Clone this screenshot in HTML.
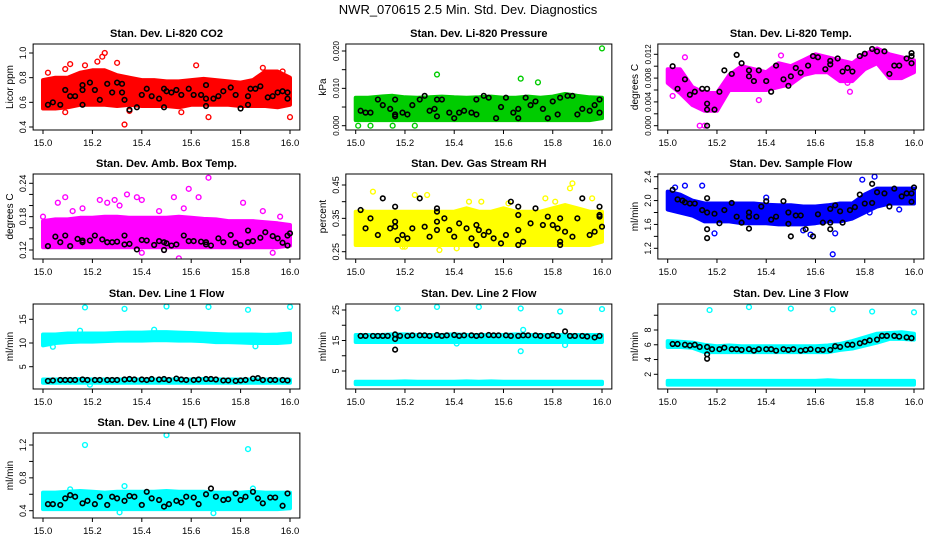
<!DOCTYPE html>
<html><head><meta charset="utf-8">
<style>
html,body{margin:0;padding:0;background:#fff;}
svg{display:block;font-family:"Liberation Sans",sans-serif;}
</style></head>
<body>
<svg id="chart" width="936" height="540" viewBox="0 0 936 540">
<text x="468" y="14" text-anchor="middle" font-size="13">NWR_070615  2.5 Min. Std. Dev. Diagnostics</text>
</svg>
<script>
const xTicks=[15.0,15.2,15.4,15.6,15.8,16.0];
const binTimes=[15.00,15.05,15.10,15.15,15.20,15.25,15.30,15.35,15.40,15.45,15.50,15.55,15.60,15.65,15.70,15.75,15.80,15.85,15.90,15.95,16.00];
const lineTimes=[15.02,15.04,15.07,15.09,15.11,15.13,15.16,15.18,15.21,15.23,15.26,15.28,15.30,15.33,15.35,15.37,15.40,15.42,15.44,15.47,15.49,15.51,15.54,15.56,15.58,15.61,15.63,15.66,15.68,15.70,15.73,15.75,15.78,15.80,15.82,15.85,15.87,15.89,15.92,15.94,15.97,15.99];

// CO2
const co2Lo=[0.55,0.55,0.56,0.58,0.58,0.58,0.57,0.58,0.57,0.57,0.57,0.56,0.58,0.58,0.58,0.58,0.57,0.57,0.57,0.56,0.58];
const co2Hi=[0.78,0.80,0.80,0.84,0.86,0.86,0.82,0.80,0.78,0.78,0.77,0.77,0.78,0.79,0.78,0.77,0.76,0.78,0.85,0.85,0.80];
const co2Out=[[15.02,0.84],[15.09,0.87],[15.11,0.91],[15.17,0.90],[15.22,0.93],[15.24,1.1],[15.25,1.0],[15.24,0.97],[15.30,0.92],[15.33,0.42],[15.62,0.90],[15.67,0.48],[16.00,0.48],[15.56,0.52],[15.35,0.53],[15.09,0.52],[15.89,0.88],[15.97,0.85]];
const co2Black=[[15.02,0.58],[15.04,0.60],[15.07,0.58],[15.09,0.70],[15.11,0.65],[15.13,0.65],[15.16,0.58],[15.16,0.70],[15.16,0.74],[15.19,0.76],[15.21,0.70],[15.23,0.62],[15.26,0.75],[15.28,0.68],[15.30,0.76],[15.32,0.75],[15.32,0.68],[15.33,0.62],[15.35,0.54],[15.38,0.56],[15.40,0.66],[15.42,0.71],[15.44,0.65],[15.47,0.63],[15.49,0.56],[15.49,0.71],[15.50,0.69],[15.52,0.68],[15.54,0.70],[15.56,0.66],[15.59,0.71],[15.61,0.66],[15.64,0.66],[15.66,0.57],[15.66,0.63],[15.66,0.74],[15.69,0.63],[15.71,0.65],[15.73,0.69],[15.76,0.72],[15.78,0.66],[15.80,0.55],[15.83,0.58],[15.83,0.65],[15.84,0.71],[15.86,0.71],[15.88,0.73],[15.91,0.64],[15.93,0.65],[15.95,0.68],[15.97,0.69],[15.99,0.63],[15.99,0.68]];
// Pressure
const presLo=[0.0015,0.0015,0.0015,0.0015,0.0015,0.0015,0.0015,0.0015,0.0015,0.0015,0.0015,0.0015,0.0015,0.0015,0.0015,0.0015,0.0015,0.0015,0.0015,0.0015,0.0020];
const presHi=[0.0075,0.0075,0.0078,0.0080,0.0076,0.0075,0.0076,0.0078,0.0076,0.0075,0.0076,0.0078,0.0075,0.0075,0.0078,0.0075,0.0078,0.0085,0.0080,0.0076,0.0075];
const presOut=[[15.33,0.0137],[15.67,0.0126],[15.74,0.0116],[16.00,0.0207],[15.01,0.0],[15.06,0.0],[15.15,0.0],[15.24,0.0]];
const presBlack=[[15.02,0.004],[15.04,0.0035],[15.06,0.0035],[15.09,0.007],[15.11,0.0055],[15.14,0.0045],[15.16,0.007],[15.16,0.003],[15.16,0.0025],[15.19,0.0035],[15.21,0.003],[15.23,0.0055],[15.26,0.007],[15.28,0.008],[15.30,0.004],[15.32,0.0045],[15.33,0.0025],[15.33,0.007],[15.35,0.007],[15.38,0.0035],[15.40,0.002],[15.42,0.0035],[15.44,0.004],[15.47,0.0035],[15.49,0.003],[15.49,0.007],[15.52,0.008],[15.54,0.0075],[15.57,0.002],[15.59,0.005],[15.61,0.0075],[15.64,0.0035],[15.66,0.002],[15.66,0.0045],[15.69,0.0075],[15.71,0.0055],[15.73,0.0065],[15.76,0.0045],[15.78,0.002],[15.80,0.0065],[15.82,0.003],[15.83,0.0075],[15.86,0.008],[15.88,0.008],[15.90,0.003],[15.92,0.0045],[15.95,0.004],[15.97,0.0055],[15.99,0.007],[15.99,0.0035]];
// Li-820 Temp
const tempLo=[0.0072,0.0055,0.0035,0.0025,0.0025,0.0060,0.0060,0.0060,0.0060,0.0065,0.0070,0.0085,0.0090,0.0090,0.0075,0.0075,0.0095,0.0105,0.0080,0.0080,0.0090];
const tempHi=[0.0095,0.0095,0.0065,0.0055,0.0055,0.0085,0.0100,0.0095,0.0090,0.0105,0.0100,0.0110,0.0120,0.0115,0.0110,0.0105,0.0120,0.0130,0.0120,0.0115,0.0110];
const tempOut=[[15.13,0.0],[15.15,0.0],[15.07,0.0115],[15.74,0.0057],[15.73,0.0072],[15.02,0.005],[15.37,0.0043],[15.46,0.0118]];
const tempBlack=[[15.02,0.010],[15.04,0.0062],[15.07,0.0078],[15.09,0.0052],[15.11,0.0057],[15.14,0.0062],[15.16,0.0062],[15.16,0.0037],[15.16,0.0027],[15.16,0.0],[15.19,0.0027],[15.21,0.0057],[15.23,0.0093],[15.26,0.0087],[15.28,0.0119],[15.30,0.0105],[15.33,0.0083],[15.33,0.0093],[15.35,0.0075],[15.37,0.0093],[15.40,0.0075],[15.42,0.0057],[15.44,0.0101],[15.47,0.0078],[15.49,0.0067],[15.50,0.0083],[15.52,0.0097],[15.54,0.0089],[15.57,0.0101],[15.59,0.0117],[15.61,0.0115],[15.64,0.0095],[15.66,0.0103],[15.66,0.0109],[15.69,0.0113],[15.71,0.0091],[15.73,0.0097],[15.75,0.0091],[15.78,0.0117],[15.80,0.0121],[15.83,0.0129],[15.85,0.0125],[15.88,0.0125],[15.90,0.0087],[15.92,0.0101],[15.94,0.0101],[15.97,0.0113],[15.99,0.0117],[15.99,0.0105],[15.99,0.0122]];
// Amb box temp
const ambLo=[0.125,0.125,0.125,0.125,0.125,0.125,0.125,0.125,0.125,0.125,0.125,0.125,0.125,0.125,0.125,0.125,0.125,0.125,0.125,0.125,0.128];
const ambHi=[0.172,0.175,0.175,0.178,0.178,0.180,0.180,0.178,0.178,0.178,0.178,0.180,0.178,0.176,0.175,0.172,0.172,0.172,0.170,0.168,0.165];
const ambOut=[[15.00,0.18],[15.06,0.205],[15.09,0.215],[15.12,0.19],[15.16,0.195],[15.23,0.21],[15.26,0.205],[15.29,0.21],[15.31,0.2],[15.34,0.22],[15.38,0.215],[15.40,0.21],[15.47,0.19],[15.53,0.215],[15.57,0.195],[15.59,0.23],[15.63,0.215],[15.67,0.25],[15.81,0.205],[15.89,0.19],[15.96,0.18],[15.40,0.115],[15.55,0.105],[15.93,0.115],[15.49,0.12]];
const ambBlack=[[15.02,0.127],[15.05,0.144],[15.07,0.134],[15.09,0.146],[15.11,0.127],[15.14,0.14],[15.16,0.137],[15.16,0.134],[15.19,0.137],[15.21,0.146],[15.24,0.139],[15.26,0.134],[15.28,0.134],[15.30,0.135],[15.33,0.13],[15.33,0.146],[15.35,0.131],[15.38,0.121],[15.40,0.138],[15.42,0.137],[15.45,0.129],[15.47,0.136],[15.49,0.12],[15.49,0.134],[15.50,0.132],[15.52,0.128],[15.54,0.13],[15.57,0.146],[15.59,0.136],[15.61,0.136],[15.64,0.135],[15.66,0.134],[15.66,0.13],[15.68,0.128],[15.71,0.141],[15.73,0.134],[15.76,0.147],[15.78,0.133],[15.80,0.129],[15.83,0.134],[15.83,0.155],[15.85,0.136],[15.88,0.142],[15.90,0.152],[15.93,0.145],[15.95,0.141],[15.97,0.133],[15.99,0.128],[15.99,0.146],[16.00,0.15]];
// RH
const rhLo=[0.27,0.27,0.27,0.27,0.27,0.27,0.27,0.27,0.27,0.27,0.27,0.27,0.27,0.27,0.27,0.27,0.27,0.27,0.27,0.27,0.28];
const rhHi=[0.37,0.37,0.37,0.37,0.37,0.37,0.37,0.37,0.37,0.38,0.37,0.37,0.38,0.37,0.37,0.37,0.38,0.39,0.38,0.37,0.37];
const rhOut=[[15.07,0.43],[15.03,0.37],[15.24,0.42],[15.29,0.42],[15.19,0.265],[15.20,0.265],[15.34,0.255],[15.41,0.26],[15.46,0.40],[15.51,0.40],[15.62,0.395],[15.77,0.41],[15.81,0.40],[15.88,0.455],[15.87,0.44],[15.96,0.41],[15.90,0.275]];
const rhBlack=[[15.02,0.375],[15.04,0.32],[15.06,0.35],[15.09,0.30],[15.11,0.41],[15.14,0.32],[15.16,0.385],[15.16,0.34],[15.16,0.325],[15.17,0.285],[15.19,0.3],[15.21,0.29],[15.23,0.32],[15.26,0.41],[15.28,0.325],[15.30,0.295],[15.33,0.37],[15.33,0.34],[15.33,0.38],[15.33,0.315],[15.36,0.35],[15.38,0.315],[15.40,0.295],[15.42,0.335],[15.45,0.32],[15.47,0.29],[15.49,0.33],[15.49,0.27],[15.50,0.315],[15.52,0.3],[15.54,0.31],[15.56,0.29],[15.59,0.275],[15.61,0.3],[15.63,0.40],[15.66,0.385],[15.66,0.36],[15.66,0.315],[15.66,0.27],[15.68,0.28],[15.71,0.335],[15.73,0.38],[15.76,0.33],[15.78,0.355],[15.80,0.33],[15.82,0.32],[15.83,0.35],[15.83,0.28],[15.83,0.27],[15.85,0.31],[15.88,0.295],[15.90,0.35],[15.92,0.41],[15.95,0.3],[15.97,0.31],[15.99,0.385],[15.99,0.355],[15.99,0.36],[16.00,0.325]];
// Sample flow
const sfLo=[1.85,1.80,1.75,1.65,1.65,1.65,1.62,1.62,1.62,1.60,1.60,1.60,1.62,1.65,1.65,1.70,1.80,1.90,1.95,1.95,1.95];
const sfHi=[2.15,2.10,2.00,1.95,1.95,1.95,1.95,1.95,1.93,1.92,1.92,1.90,1.90,1.92,1.95,1.95,2.10,2.20,2.20,2.20,2.20];
const sfOut=[[15.67,1.1],[15.68,1.45],[15.94,1.85],[15.84,2.4],[15.79,2.35],[15.07,2.25],[15.14,2.25],[15.40,2.05],[15.03,2.22],[15.19,1.45],[15.55,1.5],[15.58,1.43],[15.82,1.8]];
const sfBlack=[[15.02,2.18],[15.04,2.02],[15.06,2.0],[15.07,1.97],[15.09,1.95],[15.11,1.95],[15.14,1.84],[15.16,2.04],[15.16,1.52],[15.16,1.37],[15.16,1.80],[15.19,1.78],[15.21,1.62],[15.23,1.84],[15.26,1.96],[15.28,1.73],[15.30,1.63],[15.33,1.53],[15.33,1.73],[15.33,1.80],[15.36,1.73],[15.38,1.90],[15.40,1.99],[15.42,1.68],[15.44,1.73],[15.47,1.99],[15.49,1.80],[15.49,1.61],[15.50,1.40],[15.52,1.75],[15.54,1.75],[15.56,1.52],[15.59,1.40],[15.61,1.77],[15.63,1.63],[15.66,1.52],[15.66,1.86],[15.66,1.63],[15.68,1.92],[15.70,1.82],[15.71,1.63],[15.74,1.84],[15.76,1.89],[15.78,2.10],[15.80,1.95],[15.83,2.28],[15.83,1.96],[15.85,2.14],[15.88,2.12],[15.90,1.90],[15.92,2.20],[15.95,2.07],[15.97,2.12],[15.99,1.98],[15.99,2.12],[16.00,2.22]];
// Line 1
const l1Lo=[9.5,10.0,10.2,10.3,10.3,10.4,10.5,10.5,10.5,10.6,10.6,10.5,10.5,10.4,10.2,10.2,10.1,10.0,10.0,10.0,10.2];
const l1Hi=[11.8,11.8,12.0,12.0,12.0,12.0,12.1,12.2,12.2,12.3,12.3,12.2,12.1,12.0,11.9,11.8,11.8,11.8,11.7,11.8,12.0];
const l1LowLo=[1.6,1.6,1.6,1.6,1.6,1.6,1.6,1.6,1.6,1.6,1.6,1.6,1.6,1.6,1.6,1.6,1.6,1.6,1.6,1.6,1.6];
const l1LowHi=[2.3,2.3,2.3,2.4,2.3,2.3,2.3,2.3,2.3,2.3,2.3,2.3,2.3,2.4,2.3,2.3,2.3,2.3,2.3,2.3,2.3];
const l1Out=[[15.17,17.5],[15.33,17.2],[15.50,17.7],[15.67,17.6],[15.83,17.0],[16.00,17.6],[15.04,9.2],[15.86,9.3],[15.19,1.2],[15.15,12.6],[15.45,12.8]];
const l1BlackY=[2.0,2.1,2.2,2.2,2.2,2.2,2.3,2.2,2.2,2.2,2.2,2.2,2.2,2.3,2.4,2.3,2.3,2.2,2.4,2.3,2.4,2.2,2.5,2.3,2.2,2.2,2.3,2.4,2.4,2.3,2.1,2.1,2.0,2.1,2.2,2.5,2.6,2.2,2.2,2.2,2.2,2.1];
// Line 2
const l2Lo=[14.5,14.5,14.5,14.5,14.5,14.5,14.5,14.5,14.5,14.5,14.5,14.5,14.5,14.5,14.5,14.5,14.5,14.5,14.5,14.5,14.5];
const l2Hi=[16.8,16.8,16.8,17.0,17.0,16.8,16.8,16.8,17.0,16.8,16.8,16.8,16.8,17.0,16.8,16.8,16.8,16.8,16.8,16.8,16.8];
const l2LowLo=[0.7,0.7,0.7,0.7,0.7,0.7,0.7,0.7,0.7,0.7,0.7,0.7,0.7,0.7,0.7,0.7,0.7,0.7,0.7,0.7,0.7];
const l2LowHi=[1.5,1.5,1.5,1.5,1.6,1.5,1.5,1.5,1.5,1.6,1.5,1.6,1.5,1.5,1.5,1.5,1.5,1.5,1.5,1.5,1.5];
const l2Out=[[15.17,25.5],[15.33,26],[15.50,26],[15.67,25.5],[15.83,24.5],[16.00,25.3],[15.67,11.5],[15.68,18.5],[15.41,14],[15.85,13.5]];
const l2BlackY=[16.5,16.5,16.5,16.5,16.5,16.5,17,16.5,16.5,16.7,16.7,16.7,16.5,16.8,16.5,16.7,16.8,16.5,16.7,16.7,16.5,16.7,16.8,16.7,16.7,16.7,16.5,16.5,16.7,16.7,16.7,16.5,16.5,16.8,16.5,18,16.5,16.5,16.5,16.3,16.0,16.5];
const l2BlackExtra=[[15.16,15.5],[15.16,12.0]];
// Line 3
const l3Lo=[5.7,5.7,5.6,5.0,5.0,5.0,5.0,5.0,5.0,5.0,5.0,5.0,5.0,5.0,5.3,5.5,5.9,6.3,6.8,6.8,6.7];
const l3Hi=[6.5,6.4,6.3,6.0,5.8,5.9,5.8,5.8,5.8,5.8,5.8,5.8,5.8,5.9,6.1,6.5,7.0,7.5,7.6,7.7,7.5];
const l3LowLo=[0.6,0.6,0.6,0.6,0.6,0.6,0.6,0.6,0.6,0.6,0.6,0.6,0.6,0.6,0.6,0.6,0.6,0.6,0.6,0.6,0.6];
const l3LowHi=[1.1,1.1,1.1,1.1,1.1,1.1,1.1,1.1,1.1,1.1,1.1,1.1,1.1,1.2,1.1,1.1,1.1,1.1,1.1,1.1,1.1];
const l3Out=[[15.17,10.7],[15.33,11.1],[15.50,10.9],[15.67,10.8],[15.83,10.5],[16.00,10.4]];
const l3BlackY=[6.1,6.1,6.0,5.9,6.0,5.7,5.7,5.4,5.4,5.6,5.4,5.4,5.3,5.4,5.2,5.4,5.4,5.4,5.2,5.4,5.3,5.4,5.2,5.3,5.4,5.3,5.3,5.3,5.8,5.7,6.0,6.0,6.2,6.4,6.6,6.7,7.2,7.2,7.2,7.1,7.0,6.9];
const l3BlackExtra=[[15.16,4.1],[15.16,4.7]];
// Line 4
const l4Lo=[0.42,0.42,0.42,0.42,0.42,0.42,0.42,0.42,0.42,0.42,0.42,0.42,0.42,0.42,0.42,0.42,0.42,0.42,0.42,0.42,0.43];
const l4Hi=[0.62,0.62,0.63,0.64,0.63,0.62,0.63,0.63,0.63,0.63,0.64,0.63,0.63,0.63,0.62,0.62,0.62,0.63,0.62,0.62,0.62];
const l4Out=[[15.17,1.2],[15.50,1.32],[15.83,1.15],[15.69,0.37],[15.31,0.38],[15.11,0.66],[15.33,0.70],[15.85,0.67]];
const l4BlackY=[0.48,0.48,0.47,0.55,0.59,0.57,0.49,0.52,0.48,0.57,0.47,0.57,0.55,0.52,0.58,0.57,0.47,0.63,0.55,0.53,0.45,0.48,0.52,0.50,0.57,0.56,0.48,0.60,0.67,0.57,0.53,0.54,0.61,0.53,0.57,0.63,0.55,0.49,0.56,0.56,0.46,0.61];

const NS='http://www.w3.org/2000/svg';
const svg=document.getElementById('chart');
const colX15=[43,355.7,667.7], colX16=[290,602,914];
const rowTop=[44,174,304,433], rowBot=[130,259,389,518];
function mk(tag,attrs,parent){const e=document.createElementNS(NS,tag);for(const k in attrs)e.setAttribute(k,attrs[k]);(parent||svg).appendChild(e);return e;}
function zip(xs,ys){return xs.map((x,i)=>[x,ys[i]]);}

const panels=[
 {key:'co2',title:'Stan. Dev. Li-820 CO2',ylab:'Licor ppm',col:0,row:0,color:'#ff0000',a:[1.0,53],b:[0.4,127],ticks:[0.4,0.6,0.8,1.0],labels:['0.4','0.6','0.8','1.0'],bands:[[co2Lo,co2Hi]],out:co2Out,black:co2Black},
 {key:'pressure',title:'Stan. Dev. Li-820 Pressure',ylab:'kPa',col:1,row:0,color:'#00cc00',a:[0.020,51],b:[0,125.7],ticks:[0,0.005,0.010,0.015,0.020],labels:['0.000','','0.010','','0.020'],bands:[[presLo,presHi]],out:presOut,black:presBlack},
 {key:'li820-temp',title:'Stan. Dev. Li-820 Temp.',ylab:'degrees C',col:2,row:0,color:'#ff00ff',a:[0.012,54.3],b:[0,125.7],ticks:[0,0.002,0.004,0.006,0.008,0.010,0.012],labels:['0.000','','0.004','','0.008','','0.012'],bands:[[tempLo,tempHi]],out:tempOut,black:tempBlack},
 {key:'amb-box-temp',title:'Stan. Dev. Amb. Box Temp.',ylab:'degrees C',col:0,row:1,color:'#ff00ff',a:[0.24,183.3],b:[0.12,250],ticks:[0.12,0.14,0.16,0.18,0.20,0.22,0.24],labels:['0.12','','','0.18','','','0.24'],bands:[[ambLo,ambHi]],out:ambOut,black:ambBlack},
 {key:'gas-stream-rh',title:'Stan. Dev. Gas Stream RH',ylab:'percent',col:1,row:1,color:'#ffff00',a:[0.45,185],b:[0.25,251.7],ticks:[0.25,0.30,0.35,0.40,0.45],labels:['0.25','','0.35','','0.45'],bands:[[rhLo,rhHi]],out:rhOut,black:rhBlack},
 {key:'sample-flow',title:'Stan. Dev. Sample Flow',ylab:'ml/min',col:2,row:1,color:'#0000ff',a:[2.4,176.7],b:[1.2,248.3],ticks:[1.2,1.4,1.6,1.8,2.0,2.2,2.4],labels:['1.2','','1.6','','2.0','','2.4'],bands:[[sfLo,sfHi]],out:sfOut,black:sfBlack},
 {key:'line1-flow',title:'Stan. Dev. Line 1 Flow',ylab:'ml/min',col:0,row:2,color:'#00ffff',a:[15,319.3],b:[5,366.7],ticks:[5,10,15],labels:['5','10','15'],bands:[[l1Lo,l1Hi],[l1LowLo,l1LowHi]],out:l1Out,black:zip(lineTimes,l1BlackY)},
 {key:'line2-flow',title:'Stan. Dev. Line 2 Flow',ylab:'ml/min',col:1,row:2,color:'#00ffff',a:[25,310],b:[5,371],ticks:[5,10,15,20,25],labels:['5','','15','','25'],bands:[[l2Lo,l2Hi],[l2LowLo,l2LowHi]],out:l2Out,black:zip(lineTimes,l2BlackY).concat(l2BlackExtra)},
 {key:'line3-flow',title:'Stan. Dev. Line 3 Flow',ylab:'ml/min',col:2,row:2,color:'#00ffff',a:[8,330],b:[2,374.3],ticks:[2,4,6,8,10],labels:['2','4','6','8',''],bands:[[l3Lo,l3Hi],[l3LowLo,l3LowHi]],out:l3Out,black:zip(lineTimes,l3BlackY).concat(l3BlackExtra)},
 {key:'line4-flow',title:'Stan. Dev. Line 4 (LT) Flow',ylab:'ml/min',col:0,row:3,color:'#00ffff',a:[1.2,445],b:[0.4,510.7],ticks:[0.4,0.6,0.8,1.0,1.2],labels:['0.4','','0.8','','1.2'],bands:[[l4Lo,l4Hi]],out:l4Out,black:zip(lineTimes,l4BlackY)}
];

panels.forEach(p=>{
 const x15=colX15[p.col],x16=colX16[p.col];
 const xs=v=>x15+(v-15)*(x16-x15);
 const ys=v=>p.a[1]+(v-p.a[0])*(p.b[1]-p.a[1])/(p.b[0]-p.a[0]);
 const L=x15-0.04*(x16-x15),R=x16+0.04*(x16-x15),T=rowTop[p.row],B=rowBot[p.row];
 const g=mk('g',{});
 
 
 const clipId='clip-'+p.key;
 const cp=mk('clipPath',{id:clipId},g);mk('rect',{x:L,y:T,width:R-L,height:B-T},cp);
 const plot=mk('g',{'clip-path':'url(#'+clipId+')'},g);
 p.bands.forEach((bd,bi)=>{
  const lo=bd[0],hi=bd[1];
  let d='M'+binTimes.map((t,i)=>xs(t).toFixed(1)+','+ys(hi[i]).toFixed(1)).join('L');
  d+='L'+binTimes.slice().reverse().map((t,j)=>{const i=binTimes.length-1-j;return xs(t).toFixed(1)+','+ys(lo[i]).toFixed(1);}).join('L')+'Z';
  const path=mk('path',{d:d,fill:p.color,stroke:p.color,'stroke-width':4,'stroke-linejoin':'round'},plot);
  
  
 });
 p.out.forEach(pt=>{
  const c=mk('circle',{cx:xs(pt[0]),cy:ys(pt[1]),r:2.4,fill:'none',stroke:p.color,'stroke-width':1.4},plot);
  
  
 });
 p.black.forEach(pt=>{
  const c=mk('circle',{cx:xs(pt[0]),cy:ys(pt[1]),r:2.3,fill:'none',stroke:'#000','stroke-width':1.6},plot);
  
  
 });
 const box=mk('rect',{x:L,y:T,width:R-L,height:B-T,fill:'none',stroke:'#000','stroke-width':1},g);
 
 
 xTicks.forEach(t=>{
  mk('line',{x1:xs(t),x2:xs(t),y1:B,y2:B+4,stroke:'#000'},g);
  const tx=mk('text',{x:xs(t),y:B+16,'text-anchor':'middle','font-size':9.5},g);
  tx.textContent=t.toFixed(1);
  
  
 });
 p.ticks.forEach((t,i)=>{
  const y=ys(t);
  mk('line',{x1:L-4,x2:L,y1:y,y2:y,stroke:'#000'},g);
  if(p.labels[i]){
   const fs=p.labels[i].length>4?8:9;
   const tx=mk('text',{x:L-7,y:y,'text-anchor':'middle','font-size':fs,transform:'rotate(-90 '+(L-7)+' '+y+')'},g);
   tx.textContent=p.labels[i];
   
   
  }
 });
 const yl=mk('text',{x:L-20,y:(T+B)/2,'text-anchor':'middle','font-size':10,transform:'rotate(-90 '+(L-20)+' '+((T+B)/2)+')'},g);
 yl.textContent=p.ylab;
 
 
 const ti=mk('text',{x:(L+R)/2,y:T-7,'text-anchor':'middle','font-size':11,'font-weight':'bold'},g);
 ti.textContent=p.title;
 
 
});
</script>
</body></html>
